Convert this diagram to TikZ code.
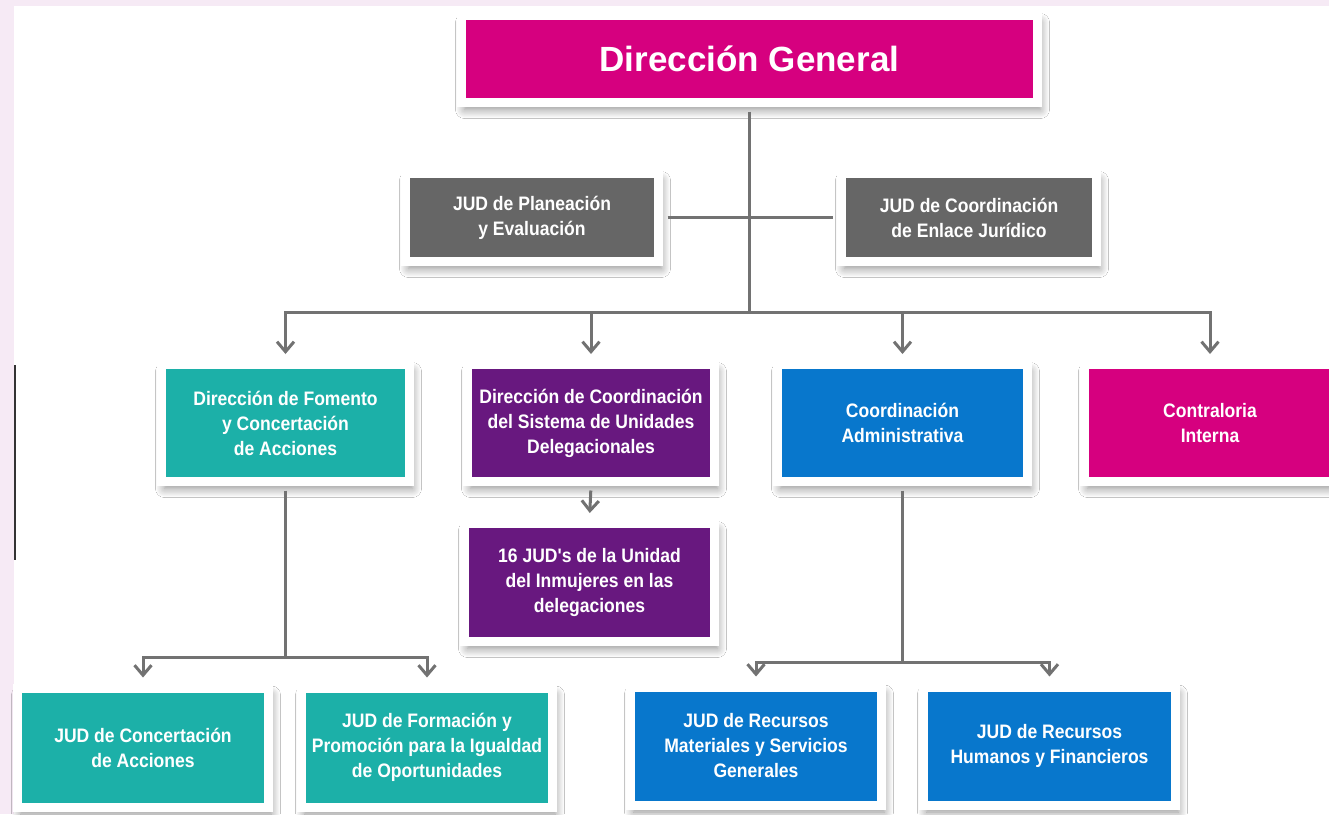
\documentclass[tikz,border=0pt]{standalone}
\usepackage{fontspec}
\setmainfont{Liberation Sans}
\newfontfamily\condfont{Liberation Sans}[FakeStretch=0.9]
\usetikzlibrary{arrows.meta,shadows.blur}
\definecolor{magentaC}{HTML}{D6007F}
\definecolor{grayC}{HTML}{666666}
\definecolor{tealC}{HTML}{1CB0A8}
\definecolor{purpC}{HTML}{68187F}
\definecolor{blueC}{HTML}{0877CC}
\definecolor{bgPink}{HTML}{F6EAF5}
\definecolor{lineC}{HTML}{727272}
\tikzset{
  orgbox/.style={draw=white, line width=9pt, fill=#1, text=white, align=center,
    inner sep=0pt,
    font=\condfont\bfseries\fontsize{19.5}{25}\selectfont,
    blur shadow={shadow xshift=3pt, shadow yshift=-7pt, shadow blur radius=9pt, shadow opacity=45, shadow blur steps=12}},
  titlebox/.style={orgbox=magentaC, font=\bfseries\fontsize{35}{40}\selectfont},
  conn/.style={draw=lineC, line width=3pt},
  arr/.style={conn, -{Straight Barb[length=10pt,width=17pt]}, shorten >=6pt},
}
\begin{document}
\begin{tikzpicture}[x=1pt,y=-1pt]
\useasboundingbox (0,0) rectangle (1329,814);
\fill[bgPink] (0,0) rectangle (1329,814);
\fill[white] (14,6) rectangle (1329,814);
\draw[line width=2pt, black!80] (14.5,365) -- (14.5,560);

% nodes
\node[titlebox, minimum width=576pt, minimum height=87pt] (dg) at (749.5,59) {Dirección General};
\node[orgbox=grayC, minimum width=253pt, minimum height=88pt] (g1) at (532,217.5) {JUD de Planeación\\y Evaluación};
\node[orgbox=grayC, minimum width=255pt, minimum height=88pt] (g2) at (969,217.5) {JUD de Coordinación\\de Enlace Jurídico};

\node[orgbox=tealC, minimum width=248pt, minimum height=117pt] (t1) at (285.5,423) {Dirección de Fomento\\y Concertación\\de Acciones};
\node[orgbox=purpC, minimum width=247pt, minimum height=117pt] (p1) at (591,423) {Dirección de Coordinación\\del Sistema de Unidades\\Delegacionales};
\node[orgbox=blueC, minimum width=250pt, minimum height=117pt] (b1) at (902.5,423) {Coordinación\\Administrativa};
\node[orgbox=magentaC, minimum width=251pt, minimum height=117pt] (m1) at (1210,423) {Contraloria\\Interna};

\node[orgbox=purpC, minimum width=250pt, minimum height=118pt] (p2) at (589.5,582.5) {16 JUD's de la Unidad\\del Inmujeres en las\\delegaciones};

\node[orgbox=tealC, minimum width=251pt, minimum height=119pt] (t2) at (143,747.5) {JUD de Concertación\\de Acciones};
\node[orgbox=tealC, minimum width=251pt, minimum height=119pt] (t3) at (427,747.5) {JUD de Formación y\\Promoción para la Igualdad\\de Oportunidades};
\node[orgbox=blueC, minimum width=251pt, minimum height=118pt] (b2) at (756,746) {JUD de Recursos\\Materiales y Servicios\\Generales};
\node[orgbox=blueC, minimum width=252pt, minimum height=118pt] (b3) at (1049.5,746) {JUD de Recursos\\Humanos y Financieros};

% junction coordinates
\coordinate (busC) at (749.5,312);
\coordinate (busL) at (285.5,312);
\coordinate (busP) at (591,312);
\coordinate (busB) at (902.5,312);
\coordinate (busR) at (1210,312);
\coordinate (tj) at (285.5,657);
\coordinate (tL) at (143,657);
\coordinate (tR) at (427,657);
\coordinate (bj) at (902.5,662);
\coordinate (bL) at (756,662);
\coordinate (bR) at (1049.5,662);

% connectors (start at the outer edge of the white frames)
\draw[conn, shorten <=4.5pt] (dg.south) -- (busC);
\draw[conn, shorten <=4.5pt, shorten >=4.5pt] (g1.east) -- (g2.west);
\draw[conn, line cap=rect] (busL) -- (busR);
\draw[arr] (busL) -- (t1.north);
\draw[arr] (busP) -- (p1.north);
\draw[arr] (busB) -- (b1.north);
\draw[arr] (busR) -- (m1.north);
\draw[arr, shorten <=4.5pt] (p1.south) -- (p2.north);
\draw[conn, shorten <=4.5pt] (t1.south) -- (tj);
\draw[conn, line cap=rect] (tL) -- (tR);
\draw[arr] (tL) -- (t2.north);
\draw[arr] (tR) -- (t3.north);
\draw[conn, shorten <=4.5pt] (b1.south) -- (bj);
\draw[conn, line cap=rect] (bL) -- (bR);
\draw[arr] (bL) -- (b2.north);
\draw[arr] (bR) -- (b3.north);
\end{tikzpicture}
\end{document}
